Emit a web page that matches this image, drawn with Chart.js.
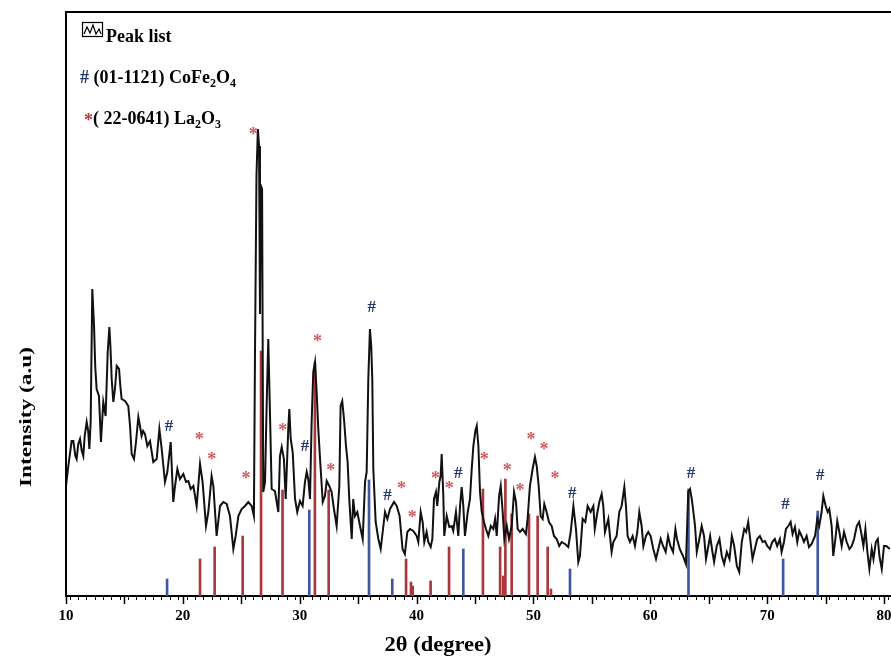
<!DOCTYPE html>
<html>
<head>
<meta charset="utf-8">
<script src="https://cdn.jsdelivr.net/npm/chart.js@4.4.1/dist/chart.umd.min.js"></script>
<style>
  html, body { margin: 0; padding: 0; background: #fff; overflow: hidden; }
  #wrap { width: 891px; height: 659px; }
</style>
</head>
<body>
<div id="wrap"><canvas id="xrd"></canvas></div>
<script>
// measured pattern (2theta in degrees, intensity in arbitrary units)
const twoTheta = [
  10.0, 10.2, 10.48, 10.63, 10.8, 10.91, 11.05, 11.2, 11.35, 11.48, 11.6, 11.77, 11.9, 12.0, 12.11, 12.25, 12.4, 12.5,
  12.62, 12.82, 12.99, 13.19, 13.39, 13.57, 13.71, 13.8, 13.91, 14.05, 14.19, 14.34, 14.54, 14.65, 14.76, 15.05, 15.33,
  15.48, 15.62, 15.82, 15.99, 16.19, 16.33, 16.47, 16.6, 16.76, 16.96, 17.19, 17.47, 17.76, 17.99, 18.19, 18.47, 18.67,
  18.96, 19.18, 19.33, 19.53, 19.75, 20.04, 20.27, 20.47, 20.67, 20.9, 21.18, 21.47, 21.69, 21.98, 22.18, 22.46, 22.61,
  22.89, 23.18, 23.46, 23.75, 24.03, 24.32, 24.52, 24.75, 25.03, 25.32, 25.6, 25.89, 26.08,
  26.17, 26.3, 26.42, 26.52, 26.6, 26.68, 26.78, 26.88, 27.03, 27.17, 27.31, 27.46, 27.6, 27.88, 28.17, 28.31, 28.46,
  28.65, 28.8, 29.02, 29.11, 29.23, 29.4, 29.6, 29.79, 30.02, 30.25, 30.45, 30.6, 30.73, 30.88, 31.02, 31.16, 31.31,
  31.45, 31.59, 31.74, 31.97, 32.16, 32.31, 32.53, 32.73, 32.93, 33.16, 33.39, 33.5, 33.64, 33.79, 33.96, 34.1, 34.24,
  34.45, 34.58, 34.73, 34.93, 35.16, 35.39, 35.59, 35.73, 35.87, 36.01, 36.12, 36.21, 36.3, 36.5, 36.73, 36.93, 37.1,
  37.3, 37.5, 37.73, 38.07, 38.3, 38.55, 38.8, 39.0, 39.21, 39.44, 39.72, 40.01,
  40.15, 40.35, 40.52, 40.66, 40.86, 41.0, 41.21, 41.35, 41.49, 41.66, 41.77, 41.95, 42.06, 42.15, 42.29, 42.37, 42.58,
  42.8, 43.01, 43.14, 43.37, 43.57, 43.72, 43.86, 44.0, 44.14, 44.38, 44.57, 44.72, 44.86, 45.03, 45.15, 45.29, 45.43,
  45.57, 45.77, 45.94, 46.14, 46.35, 46.57, 46.72, 46.86, 47.06, 47.2, 47.37, 47.51, 47.72, 47.91, 48.14, 48.34, 48.51,
  48.65, 48.85, 49.08, 49.36, 49.5, 49.7, 49.93, 50.13, 50.28, 50.45, 50.62, 50.79, 50.93, 51.13, 51.33, 51.56, 51.76,
  51.99, 52.21, 52.42, 52.7, 52.98, 53.19, 53.42, 53.64, 53.84, 53.98, 54.21, 54.44, 54.64, 54.9, 55.13, 55.25, 55.45,
  55.64, 55.84, 55.98, 56.12, 56.41, 56.55, 56.69, 56.84, 57.12, 57.35, 57.55, 57.78, 57.92, 58.06, 58.26, 58.49, 58.69,
  58.89, 59.06, 59.26, 59.41, 59.63, 59.83, 60.03, 60.26, 60.49, 60.69, 60.89, 61.09, 61.32, 61.52, 61.72, 61.95, 62.15,
  62.29, 62.52, 62.8, 63.05, 63.25, 63.4, 63.55, 63.69, 63.83, 63.98, 64.2, 64.4, 64.6, 64.77, 64.97, 65.12, 65.32,
  65.46, 65.69, 65.92, 66.12, 66.32, 66.55, 66.78, 66.98, 67.18, 67.41, 67.61, 67.83, 68.04, 68.21, 68.38, 68.52, 68.75,
  68.95, 69.15, 69.38, 69.61, 69.81, 70.01, 70.24, 70.44, 70.66, 70.86, 71.09, 71.24, 71.44, 71.61, 71.81, 72.01, 72.18,
  72.38, 72.58, 72.75, 72.95, 73.15, 73.38, 73.58, 73.81, 74.1, 74.29, 74.46, 74.66, 74.81, 75.01, 75.18, 75.32, 75.52,
  75.66, 75.84, 76.0, 76.18, 76.38, 76.58, 76.81, 77.04, 77.24, 77.44, 77.67, 77.87, 78.04, 78.24, 78.41, 78.58, 78.75,
  78.95, 79.1, 79.3, 79.47, 79.61, 79.81, 80.0, 80.2, 80.5
];
const counts = [
  110, 130, 155, 155, 140, 137, 152, 157, 145, 140, 160, 174, 165, 147, 174, 307, 270, 230,
  207, 200, 154, 194, 180, 244, 269, 250, 217, 194, 207, 230, 227, 210, 197, 195, 190,
  170, 142, 137, 154, 179, 170, 160, 165, 162, 150, 155, 134, 137, 167, 147, 114, 124,
  154, 94, 110, 127, 117, 122, 114, 115, 107, 110, 90, 132, 114, 70, 84, 120, 110,
  60, 90, 94, 92, 80, 47, 60, 80, 87, 90, 94, 90, 80,
  237, 420, 467, 450, 282, 410, 407, 104, 114, 190, 257, 180, 107, 105, 84, 140, 149,
  137, 97, 167, 187, 157, 144, 97, 84, 95, 90, 114, 124, 117, 97, 174, 224, 234,
  204, 167, 137, 94, 100, 115, 110, 104, 87, 70, 110, 190, 195, 177, 150, 134, 97,
  57, 97, 80, 84, 70, 57, 114, 124, 217, 267, 250, 217, 127, 74, 57, 47, 64,
  84, 77, 87, 94, 90, 80, 47, 42, 64, 67, 65, 60,
  54, 84, 74, 54, 64, 54, 49, 57, 97, 104, 90, 114, 120, 142, 100, 60, 80,
  69, 70, 65, 84, 60, 90, 109, 90, 60, 84, 97, 127, 150, 165, 170, 150, 104,
  85, 74, 67, 60, 70, 67, 77, 60, 100, 110, 84, 57, 70, 57, 70, 104, 94,
  67, 64, 67, 62, 77, 110, 127, 139, 130, 110, 80, 77, 92, 84, 74, 70, 60,
  57, 50, 54, 52, 49, 64, 90, 67, 34, 40, 77, 74, 90, 84, 90, 67, 82,
  94, 102, 90, 64, 77, 60, 44, 54, 60, 84, 90, 109, 90, 60, 54, 60, 50,
  64, 84, 70, 50, 60, 64, 60, 47, 37, 47, 57, 50, 44, 60, 50, 44, 67,
  57, 47, 40, 32, 104, 107, 97, 84, 70, 44, 57, 70, 60, 37, 50, 60, 44,
  34, 50, 57, 40, 32, 44, 37, 60, 50, 30, 24, 54, 67, 64, 74, 60, 37,
  47, 57, 60, 54, 55, 50, 47, 54, 57, 50, 57, 44, 54, 67, 70, 74, 62,
  69, 54, 65, 60, 54, 60, 49, 52, 60, 77, 70, 84, 100, 90, 84, 87, 70,
  40, 57, 75, 64, 50, 64, 54, 47, 50, 57, 70, 74, 64, 50, 67, 44, 27,
  47, 37, 54, 57, 40, 27, 50, 50, 47
];

// reference peak lists
const cofeAngles  = [18.65, 30.82, 35.93, 37.92, 44.0, 53.13, 63.27, 71.37, 74.33];
const cofeHeights = [17, 86, 116, 17, 47, 27, 107, 37, 85];
const la2o3Angles  = [21.47, 22.72, 25.12, 26.69, 28.53, 31.3, 32.48, 39.1, 39.52, 39.67, 41.2, 42.78,
                      45.68, 47.15, 47.42, 47.6, 48.14, 49.62, 50.36, 51.22, 51.5];
const la2o3Heights = [37, 49, 60, 245, 106, 233, 106, 37, 14, 10, 15, 49,
                      107, 49, 20, 117, 82, 82, 80, 49, 7];

// phase markers over the pattern
const cofeMarkAngles = [18.81, 30.45, 36.16, 37.52, 43.57, 53.33, 63.48, 71.58, 74.54];
const cofeMarkLevels = [169, 149, 288, 100, 122, 102, 122, 91, 120];
const laMarkAngles = [21.41, 22.47, 25.4, 26.03, 28.54, 31.53, 32.65, 38.72, 39.64, 41.63, 42.8,
                      45.8, 47.77, 48.85, 49.79, 50.9, 51.84];
const laMarkLevels = [160, 140, 121, 465, 169, 258, 129, 111, 82, 121, 111,
                      140, 129, 109, 160, 150, 121];

const xTickLabels = ['10', '20', '30', '40', '50', '60', '70', '80'];
const xMin = 10, xMax = 80.6;
const ticksPerTen = 14;

const xTicks = [];
for (let i = 0; 10 + i * 10 / ticksPerTen <= xMax; i++) xTicks.push(10 + i * 10 / ticksPerTen);

const SERIF = '"Liberation Serif", "Times New Roman", serif';

function stretchText(ctx, text, cx, cy, width, angle) {
  ctx.save();
  ctx.translate(cx, cy);
  ctx.rotate(angle);
  const w = ctx.measureText(text).width;
  ctx.scale(width / w, 1);
  ctx.fillText(text, 0, 0);
  ctx.restore();
}

function textRuns(ctx, x, base, runs) {
  for (const r of runs) {
    ctx.font = r.sub ? 'bold 12px ' + SERIF : 'bold 18px ' + SERIF;
    ctx.fillStyle = r.color || '#000';
    ctx.fillText(r.t, x, base + (r.sub ? 4 : 0) + (r.dy || 0));
    x += ctx.measureText(r.t).width;
  }
}

const decor = {
  id: 'decor',
  afterDraw(chart) {
    const { ctx, chartArea: a, scales: { x, y } } = chart;
    ctx.save();

    // frame: left and top
    ctx.strokeStyle = '#000';
    ctx.lineWidth = 2;
    ctx.beginPath();
    ctx.moveTo(a.left, a.bottom);
    ctx.lineTo(a.left, a.top);
    ctx.lineTo(a.right, a.top);
    ctx.stroke();

    // longer ticks every 5 degrees
    ctx.lineWidth = 1.5;
    xTicks.forEach((v, i) => {
      if (i % 7 !== 0) return;
      const px = Math.round(x.getPixelForValue(v)) + 0.5;
      ctx.beginPath();
      ctx.moveTo(px, a.bottom);
      ctx.lineTo(px, a.bottom + 8);
      ctx.stroke();
    });

    // phase markers
    ctx.textAlign = 'center';
    ctx.textBaseline = 'middle';
    ctx.font = 'bold 17px ' + SERIF;
    ctx.fillStyle = '#22386f';
    cofeMarkAngles.forEach((t, i) => {
      ctx.fillText('#', x.getPixelForValue(t), y.getPixelForValue(cofeMarkLevels[i]));
    });
    ctx.font = 'bold 18px ' + SERIF;
    ctx.fillStyle = '#d05a5a';
    laMarkAngles.forEach((t, i) => {
      ctx.fillText('*', x.getPixelForValue(t), y.getPixelForValue(laMarkLevels[i]) + 4);
    });

    // legend block
    ctx.textAlign = 'left';
    ctx.textBaseline = 'alphabetic';
    ctx.strokeStyle = '#000';
    ctx.lineWidth = 1.2;
    ctx.strokeRect(82.5, 22.5, 20, 14);
    ctx.beginPath();
    ctx.moveTo(84, 34); ctx.lineTo(87, 27); ctx.lineTo(90, 33); ctx.lineTo(93, 25);
    ctx.lineTo(96, 34); ctx.lineTo(99, 29); ctx.lineTo(101, 34);
    ctx.stroke();
    textRuns(ctx, 106, 42, [{ t: 'Peak list' }]);
    textRuns(ctx, 80, 83, [
      { t: '#', color: '#22386f' }, { t: ' (01-1121) CoFe' }, { t: '2', sub: true }, { t: 'O' }, { t: '4', sub: true }
    ]);
    textRuns(ctx, 84, 124, [
      { t: '*', color: '#b03a3a', dy: 2 }, { t: '( 22-0641) La' }, { t: '2', sub: true }, { t: 'O' }, { t: '3', sub: true }
    ]);

    // axis titles
    ctx.fillStyle = '#000';
    ctx.textAlign = 'center';
    ctx.textBaseline = 'middle';
    ctx.font = 'bold 17px ' + SERIF;
    stretchText(ctx, 'Intensity (a.u)', 27, 417, 140, -Math.PI / 2);
    ctx.font = 'bold 20px ' + SERIF;
    stretchText(ctx, '2θ (degree)', 438, 646, 107, 0);

    ctx.restore();
  }
};

new Chart(document.getElementById('xrd'), {
  type: 'line',
  data: {
    datasets: [
      {
        type: 'line',
        label: 'Pattern',
        data: twoTheta.map((t, i) => ({ x: t, y: counts[i] })),
        borderColor: '#111',
        borderWidth: 2,
        pointRadius: 0,
        tension: 0,
        order: 0
      },
      {
        type: 'bar',
        label: 'CoFe2O4 (01-1121)',
        data: cofeAngles.map((t, i) => ({ x: t, y: cofeHeights[i] })),
        backgroundColor: '#3f57a3',
        barThickness: 2,
        grouped: false,
        order: 1
      },
      {
        type: 'bar',
        label: 'La2O3 (22-0641)',
        data: la2o3Angles.map((t, i) => ({ x: t, y: la2o3Heights[i] })),
        backgroundColor: '#a8383b',
        barThickness: 2,
        grouped: false,
        order: 1
      }
    ]
  },
  options: {
    responsive: true,
    maintainAspectRatio: false,
    animation: false,
    layout: { padding: { left: 66, right: 0, top: 12, bottom: 27 }, autoPadding: false },
    plugins: { legend: { display: false }, tooltip: { enabled: false } },
    scales: {
      x: {
        type: 'linear',
        min: xMin,
        max: xMax,
        offset: false,
        afterBuildTicks: s => { s.ticks = xTicks.map(v => ({ value: v })); },
        afterFit: s => { s.paddingLeft = 0; s.paddingRight = 0; },
        ticks: {
          autoSkip: false,
          maxRotation: 0,
          padding: 7,
          color: '#000',
          font: { family: SERIF, size: 15, weight: 'bold' },
          callback: (v, i) => (i % ticksPerTen === 0 ? xTickLabels[i / ticksPerTen] : '')
        },
        grid: { drawOnChartArea: false, drawTicks: true, tickLength: 4, color: '#000', lineWidth: 1 },
        border: { display: true, color: '#000', width: 2 }
      },
      y: { display: false, min: 0, max: 584 }
    }
  },
  plugins: [decor]
});
</script>
</body>
</html>
